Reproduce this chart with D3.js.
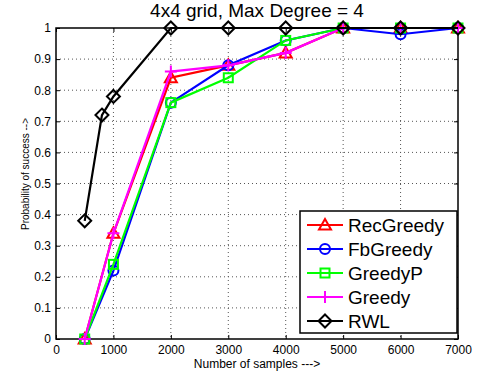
<!DOCTYPE html>
<html><head><meta charset="utf-8">
<script src="https://cdn.jsdelivr.net/npm/d3@7"></script>
<style>body{margin:0;background:#fff}svg{display:block}text{font-family:"Liberation Sans",Arial,sans-serif}</style>
</head><body><svg id="c" width="478" height="380"></svg>
<script>
const xs = [500, 1000, 2000, 3000, 4000, 5000, 6000, 7000];
const recGreedy = [0, 0.34, 0.84, 0.88, 0.92, 1, 1, 1];
const fbGreedy = [0, 0.22, 0.76, 0.88, 0.96, 1, 0.98, 1];
const greedyP = [0, 0.24, 0.76, 0.84, 0.96, 1, 1, 1];
const greedy = [0, 0.34, 0.86, 0.88, 0.92, 1, 1, 1];
const rwlX = [500, 800, 1000, 2000, 3000, 4000, 5000, 6000, 7000];
const rwl = [0.38, 0.72, 0.78, 1, 1, 1, 1, 1, 1];
const xTicks = [0, 1000, 2000, 3000, 4000, 5000, 6000, 7000];
const yTicks = [0, 0.1, 0.2, 0.3, 0.4, 0.5, 0.6, 0.7, 0.8, 0.9, 1];
const seriesNames = ["RecGreedy", "FbGreedy", "GreedyP", "Greedy", "RWL"];
const colors = ["#ff0000", "#0000ff", "#00ff00", "#ff00ff", "#000000"];
const markers = ["triangle", "circle", "square", "plus", "diamond"];

const series = [
  {x: xs, y: recGreedy}, {x: xs, y: fbGreedy}, {x: xs, y: greedyP}, {x: xs, y: greedy}, {x: rwlX, y: rwl}
];

const L = 56, R = 458, T = 28, B = 339;
const x = d3.scaleLinear().domain([0, 7000]).range([L, R]);
const y = d3.scaleLinear().domain([0, 1]).range([B, T]);
const svg = d3.select("#c");

// grid
const g = svg.append("g");
g.selectAll(".gx").data(xTicks.slice(1, -1)).enter().append("line")
  .attr("x1", d => x(d)).attr("x2", d => x(d)).attr("y1", T).attr("y2", B)
  .attr("stroke", "#555").attr("stroke-width", 1).attr("stroke-dasharray", "1,3");
g.selectAll(".gy").data(yTicks.slice(1, -1)).enter().append("line")
  .attr("y1", d => y(d)).attr("y2", d => y(d)).attr("x1", L).attr("x2", R)
  .attr("stroke", "#555").attr("stroke-width", 1).attr("stroke-dasharray", "1,3");

// axes
const axB = d3.axisBottom(x).tickValues(xTicks).tickSize(-4).tickPadding(6).tickFormat(d3.format("d"));
const axL = d3.axisLeft(y).tickValues(yTicks).tickSize(-4).tickPadding(5).tickFormat(d => d3.format("")(d));
const axT = d3.axisTop(x).tickValues(xTicks).tickSize(-4).tickFormat("");
const axR = d3.axisRight(y).tickValues(yTicks).tickSize(-4).tickFormat("");
function style(sel) {
  sel.select(".domain").remove();
  sel.selectAll("line").attr("stroke", "#000");
  sel.selectAll("text").attr("font-size", 12).attr("fill", "#000").attr("font-family", "Liberation Sans, Arial, sans-serif");
}
svg.append("g").attr("transform", `translate(0,${B})`).call(axB).call(style);
svg.append("g").attr("transform", `translate(${L},0)`).call(axL).call(style);
svg.append("g").attr("transform", `translate(0,${T})`).call(axT).call(style);
svg.append("g").attr("transform", `translate(${R},0)`).call(axR).call(style);
svg.append("rect").attr("x", L).attr("y", T).attr("width", R - L).attr("height", B - T)
  .attr("fill", "none").attr("stroke", "#000").attr("stroke-width", 1.5);

function marker(sel, type, color) {
  if (type === "triangle") sel.append("path").attr("d", "M0,-6L6,4.5L-6,4.5Z").attr("fill", "none").attr("stroke", color).attr("stroke-width", 2);
  else if (type === "circle") sel.append("circle").attr("r", 5).attr("fill", "none").attr("stroke", color).attr("stroke-width", 2);
  else if (type === "square") sel.append("rect").attr("x", -4.5).attr("y", -4.5).attr("width", 9).attr("height", 9).attr("fill", "none").attr("stroke", color).attr("stroke-width", 2);
  else if (type === "plus") sel.append("path").attr("d", "M-6,0H6M0,-6V6").attr("fill", "none").attr("stroke", color).attr("stroke-width", 2);
  else if (type === "diamond") sel.append("path").attr("d", "M0,-6.5L6.5,0L0,6.5L-6.5,0Z").attr("fill", "none").attr("stroke", color).attr("stroke-width", 2);
}

const line = d3.line().x(d => x(d[0])).y(d => y(d[1]));
series.forEach((s, i) => {
  const pts = s.x.map((xv, j) => [xv, s.y[j]]);
  svg.append("path").datum(pts).attr("d", line).attr("fill", "none")
    .attr("stroke", colors[i]).attr("stroke-width", 2.2);
  pts.forEach(p => {
    const m = svg.append("g").attr("transform", `translate(${x(p[0])},${y(p[1])})`);
    marker(m, markers[i], colors[i]);
  });
});

// title and labels
svg.append("text").attr("x", 257).attr("y", 17).attr("text-anchor", "middle").attr("font-size", 19).text("4x4 grid, Max Degree = 4");
svg.append("text").attr("x", 257).attr("y", 368).attr("text-anchor", "middle").attr("font-size", 12).text("Number of samples --->");
svg.append("text").attr("transform", "translate(29,174) rotate(-90)").attr("text-anchor", "middle").attr("font-size", 10).text("Probability of success -->");

// legend
const lg = svg.append("g");
lg.append("rect").attr("x", 300).attr("y", 211).attr("width", 157).attr("height", 122)
  .attr("fill", "#fff").attr("stroke", "#000").attr("stroke-width", 1.5);
seriesNames.forEach((n, i) => {
  const yy = 225 + i * 24;
  lg.append("line").attr("x1", 307).attr("x2", 343).attr("y1", yy).attr("y2", yy).attr("stroke", colors[i]).attr("stroke-width", 2.2);
  const m = lg.append("g").attr("transform", `translate(325,${yy})`);
  marker(m, markers[i], colors[i]);
  lg.append("text").attr("x", 348).attr("y", yy + 7).attr("font-size", 19).text(n);
});
</script></body></html>
